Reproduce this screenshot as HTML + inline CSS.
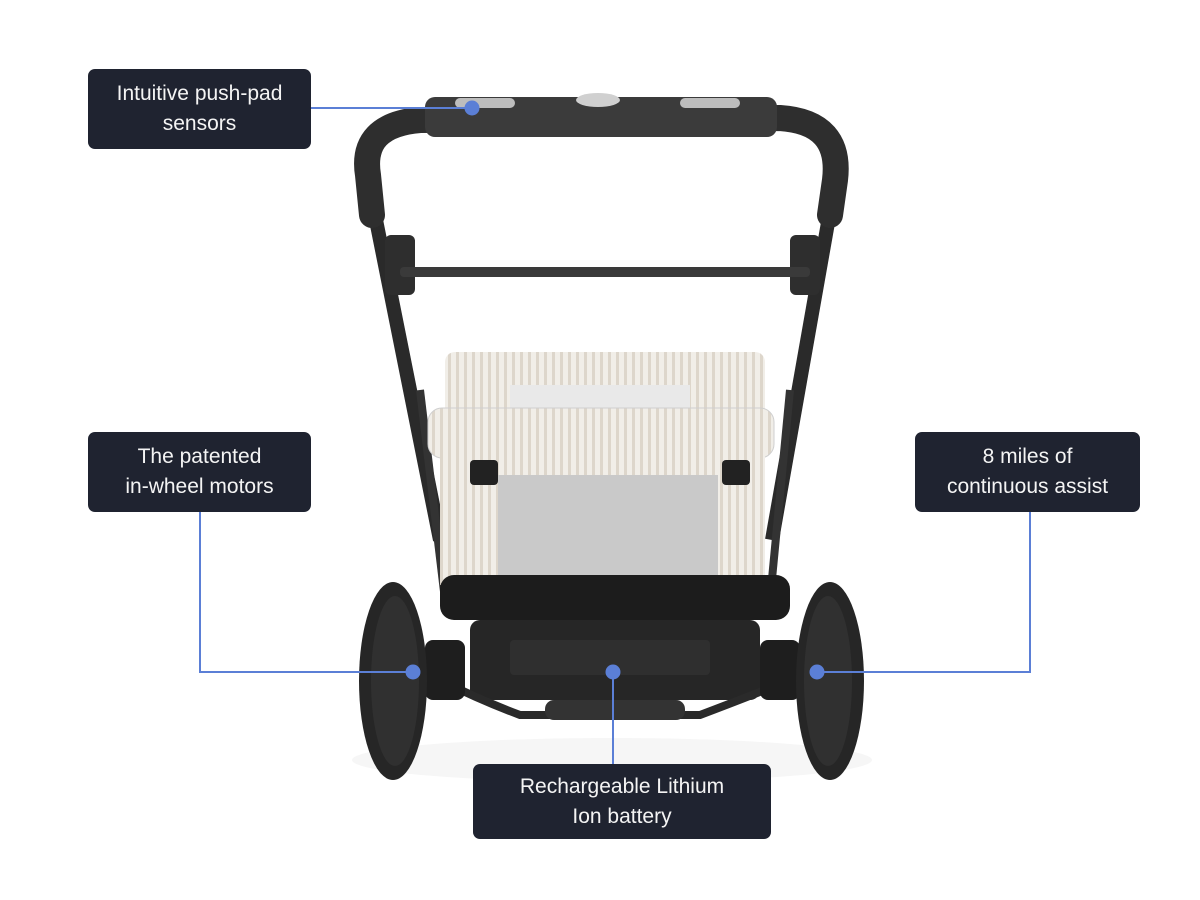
<!DOCTYPE html>
<html><head><meta charset="utf-8"><style>
body{margin:0;background:#fff;}
.wrap{position:relative;width:1200px;height:900px;overflow:hidden;font-family:"Liberation Sans",sans-serif;}
.lab{position:absolute;background:#1f2330;color:#f4f4f4;border-radius:7px;display:flex;align-items:center;justify-content:center;text-align:center;font-size:21px;line-height:30px;}
svg{position:absolute;left:0;top:0;}
</style></head><body><div class="wrap">
<svg width="1200" height="900" viewBox="0 0 1200 900">
<defs>
<pattern id="st" width="8" height="8" patternUnits="userSpaceOnUse"><rect width="8" height="8" fill="#f1eee8"/><rect width="3" height="8" fill="#ddd6cb"/></pattern>
</defs>
<ellipse cx="612" cy="760" rx="260" ry="22" fill="#f6f6f6"/>
<path d="M372 200 L440 540" stroke="#2a2a2a" stroke-width="14" fill="none"/>
<path d="M832 200 L772 540" stroke="#2a2a2a" stroke-width="14" fill="none"/>
<path d="M420 390 L445 600" stroke="#333" stroke-width="8"/>
<path d="M790 390 L770 600" stroke="#333" stroke-width="8"/>
<rect x="385" y="235" width="30" height="60" rx="6" fill="#2e2e2e"/>
<rect x="790" y="235" width="30" height="60" rx="6" fill="#2e2e2e"/>
<rect x="400" y="267" width="410" height="10" rx="4" fill="#3a3a3a"/>
<path d="M372 215 L368 175 Q360 125 420 120 L780 118 Q842 122 835 180 L830 215" stroke="#2e2e2e" stroke-width="26" fill="none" stroke-linecap="round"/>
<rect x="425" y="97" width="352" height="40" rx="10" fill="#3b3b3b"/>
<rect x="455" y="98" width="60" height="10" rx="5" fill="#bdbdbd"/>
<rect x="680" y="98" width="60" height="10" rx="5" fill="#bdbdbd"/>
<ellipse cx="598" cy="100" rx="22" ry="7" fill="#d0d0d0"/>
<rect x="445" y="352" width="320" height="80" rx="10" fill="url(#st)"/>
<rect x="510" y="385" width="180" height="40" fill="#e9e9e9"/>
<rect x="428" y="408" width="346" height="50" rx="14" fill="url(#st)" stroke="#cfcfcf"/>
<rect x="440" y="455" width="325" height="130" fill="url(#st)"/>
<rect x="498" y="475" width="220" height="112" fill="#c9c9c9"/>
<rect x="470" y="460" width="28" height="25" rx="4" fill="#222"/>
<rect x="722" y="460" width="28" height="25" rx="4" fill="#222"/>
<rect x="440" y="575" width="350" height="45" rx="14" fill="#1c1c1c"/>
<rect x="470" y="620" width="290" height="80" rx="10" fill="#262626"/>
<rect x="510" y="640" width="200" height="35" rx="4" fill="#2f2f2f"/>
<path d="M440 680 Q480 700 520 715 L700 715 Q740 700 790 680" stroke="#2a2a2a" stroke-width="8" fill="none"/>
<rect x="545" y="700" width="140" height="20" rx="9" fill="#333"/>
<rect x="425" y="640" width="40" height="60" rx="8" fill="#1e1e1e"/>
<rect x="760" y="640" width="40" height="60" rx="8" fill="#1e1e1e"/>
<ellipse cx="393" cy="681" rx="34" ry="99" fill="#262626"/>
<ellipse cx="395" cy="681" rx="24" ry="85" fill="#303030"/>
<ellipse cx="830" cy="681" rx="34" ry="99" fill="#262626"/>
<ellipse cx="828" cy="681" rx="24" ry="85" fill="#303030"/>
<g stroke="#5b7fd6" stroke-width="2" fill="none">
<path d="M311 108 H472"/>
<path d="M200 512 V672 H413"/>
<path d="M1030 512 V672 H817"/>
<path d="M613 672 V764"/>
</g>
<g fill="#5b7fd6">
<circle cx="472" cy="108" r="7.5"/>
<circle cx="413" cy="672" r="7.5"/>
<circle cx="817" cy="672" r="7.5"/>
<circle cx="613" cy="672" r="7.5"/>
</g>
</svg>
<div class="lab" style="left:88px;top:69px;width:223px;height:80px;">Intuitive push-pad<br>sensors</div>
<div class="lab" style="left:88px;top:432px;width:223px;height:80px;">The patented<br>in-wheel motors</div>
<div class="lab" style="left:915px;top:432px;width:225px;height:80px;">8 miles of<br>continuous assist</div>
<div class="lab" style="left:473px;top:764px;width:298px;height:75px;">Rechargeable Lithium<br>Ion battery</div>
</div></body></html>
